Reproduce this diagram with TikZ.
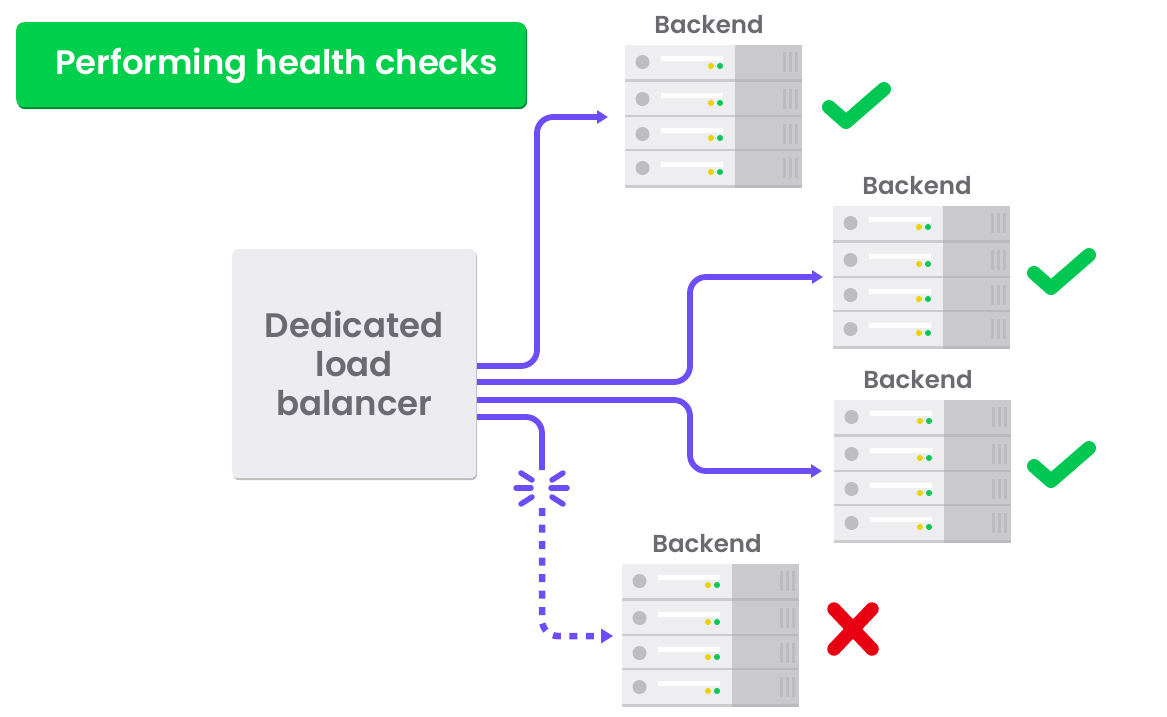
\documentclass[tikz,border=0pt]{standalone}
\usepackage{fontspec}
\setmainfont{Poppins SemiBold}
\usetikzlibrary{arrows.meta,shadows}
\definecolor{linkviolet}{HTML}{6D4DF6}
\definecolor{okgreen}{HTML}{00C853}
\definecolor{titlegreen}{HTML}{00CF4B}
\definecolor{failred}{HTML}{E80012}
\definecolor{inkgrey}{HTML}{6B6A70}
\tikzset{
  link/.style={draw=linkviolet, line width=5.8pt, rounded corners=16pt},
  deadlink/.style={draw=linkviolet, line width=6.5pt, rounded corners=16pt, dash pattern=on 8pt off 8.5pt},
  spoke/.style={draw=linkviolet, line width=5.5pt, line cap=round},
  mark ok/.style={draw=okgreen, line width=14pt, line cap=round, line join=round},
  mark bad/.style={draw=failred, line width=13.5pt, line cap=round},
  backendlabel/.style={text=inkgrey, font=\fontsize{24.5}{28}\selectfont, inner sep=0pt},
  rackbox/.style={anchor=north west, minimum width=177pt, minimum height=142pt, inner sep=0pt},
  pics/serverrack/.style={code={
    \foreach \r/\h in {0/36,37/35,72/34,106/36}{
      \fill[color={rgb,255:red,238;green,238;blue,240}] (0,\r) rectangle (110,\r+\h-2);
      \fill[color={rgb,255:red,202;green,202;blue,204}] (110,\r) rectangle (177,\r+\h-2);
      \fill[color={rgb,255:red,204;green,204;blue,208}] (0,\r+\h-2) rectangle (110,\r+\h+1);
      \fill[color={rgb,255:red,186;green,186;blue,190}] (110,\r+\h-2) rectangle (177,\r+\h+1);
      \fill[color={rgb,255:red,190;green,189;blue,195}] (17.5,\r+17) circle (7pt);
      \fill[white] (36,\r+11) rectangle (98,\r+15.5);
      \fill[color={rgb,255:red,232;green,212;blue,0}] (86,\r+21) circle (3pt);
      \fill[okgreen] (95,\r+21) circle (3pt);
      \foreach \v in {159,165,171}
        \fill[color={rgb,255:red,188;green,188;blue,191}] (\v-1.5,\r+7) rectangle (\v+1.5,\r+27);
    }
  }},
}
\begin{document}
\begin{tikzpicture}[x=1pt, y=-1pt, >={Stealth[length=11pt,width=13pt,inset=0pt]}]
\useasboundingbox (0,0) rectangle (1167,716);
% titre
\node[anchor=north west, fill=titlegreen, rounded corners=8pt, minimum width=510pt, minimum height=85pt,
  drop shadow={shadow xshift=1pt, shadow yshift=-2pt, opacity=1, fill=black!35!titlegreen}]
  (title) at (16,22) {};
\node[anchor=west, inner sep=0pt, text=white, font=\fontsize{33.9}{38}\selectfont]
  (titletext) at (55,66) {Performing health checks};
% load balancer
\node[anchor=north west, fill={rgb,255:red,237;green,236;blue,240}, rounded corners=6pt,
  minimum width=244pt, minimum height=229pt, text=inkgrey, align=center,
  font=\fontsize{34}{39}\selectfont,
  drop shadow={shadow xshift=1pt, shadow yshift=-2pt, opacity=1, fill=black!25}]
  (lb) at (232,249) {Dedicated\\load\\balancer};
% 4 backend
\node[rackbox] (rackA) at (625,45) {};
\node[rackbox] (rackB) at (833,206) {};
\node[rackbox] (rackC) at (834,400) {};
\node[rackbox] (rackD) at (622,564) {};
\foreach \n in {A,B,C,D}
  \pic at (rack\n.north west) {serverrack};
\node[backendlabel] (labelA) at (709,25) {Backend};
\node[backendlabel] (labelB) at (917,186) {Backend};
\node[backendlabel] (labelC) at (918,380) {Backend};
\node[backendlabel] (labelD) at (707,544) {Backend};
% diem dau, diem cuoi
\coordinate (outA) at (477,366);
\coordinate (outB) at (477,382);
\coordinate (outC) at (477,400);
\coordinate (outD) at (477,417);
\coordinate (inA) at (608,117);
\coordinate (inB) at (823,277);
\coordinate (inC) at (822,471);
\coordinate (inD) at (613,636);
\coordinate (breakTop) at (542,470);
\coordinate (breakBot) at (542,508);
\draw[link,->] (outA)--(537,366)--(537,117)--(inA);
\draw[link,->] (outB)--(690,382)--(690,277)--(inB);
\draw[link,->] (outC)--(690,400)--(690,471)--(inC);
\draw[link] (outD)--(542,417)--(breakTop);
\draw[deadlink] (breakBot)--(542,636)--(601,636);
\draw[draw=none, fill=linkviolet] (601,628.5)--(inD)--(601,643.5)--cycle;
% tia vo
\foreach \a/\b/\c/\d in {516/488/531/488, 551/488/567/488, 521/473/532/480, 521/504/532/497, 563/473/552/480, 563/504/552/497}
  \draw[spoke] (\a,\b)--(\c,\d);
% dau kiem tra
\foreach \dx/\dy in {0/0,205/166,205/359}
  \draw[mark ok] (829+\dx,107+\dy)--(846+\dx,122+\dy)--(884+\dx,89+\dy);
\draw[mark bad] (834,609)--(872,649);
\draw[mark bad] (872,609)--(834,649);
\end{tikzpicture}
\end{document}
